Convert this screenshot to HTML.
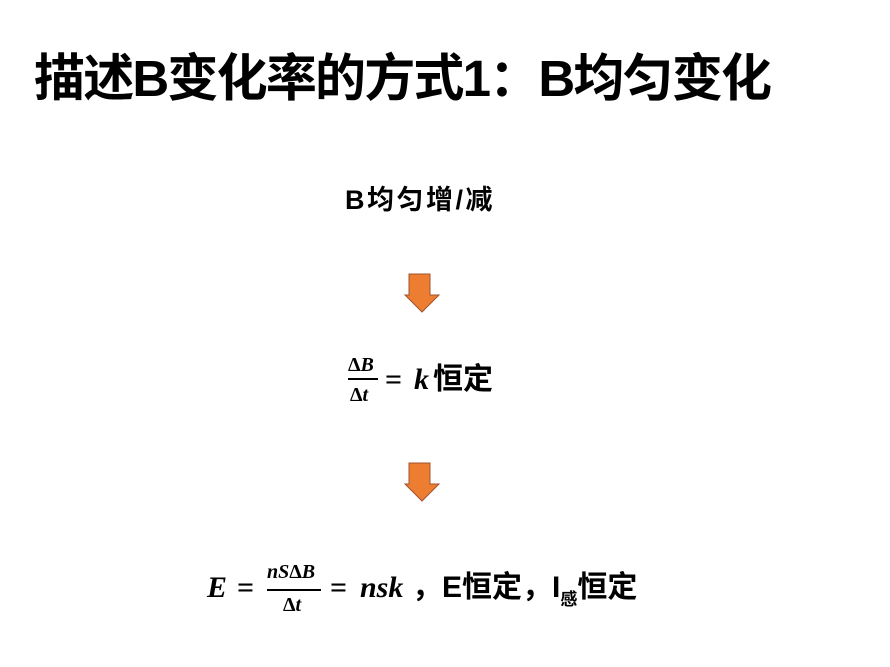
<!DOCTYPE html>
<html><head><meta charset="utf-8"><style>
body{margin:0;width:890px;height:667px;background:#fff;position:relative;overflow:hidden;font-family:"Liberation Sans","Noto Sans CJK SC",sans-serif;color:#000}
.a{position:absolute;white-space:nowrap}
.m{font-family:"Liberation Serif","DejaVu Serif",serif;font-weight:bold;font-style:italic}
.b{font-weight:bold}
</style></head><body>
<div class="a b" style="left:34px;top:46px;font-size:51px;line-height:66px;letter-spacing:-1.8px">描述B变化率的方式1：B均匀变化</div>
<div class="a b" style="left:345px;top:183px;font-size:27px;line-height:34px;letter-spacing:2.5px">B均匀增/减</div>
<svg class="a" style="left:0;top:0" width="890" height="667">
<polygon points="409,274 430,274 430,295 439,295 422,312 405,295 409,295" fill="#ed7d31" stroke="#a0522d" stroke-width="1"/>
<polygon points="409,463 430,463 430,484 439,484 422,501 405,484 409,484" fill="#ed7d31" stroke="#a0522d" stroke-width="1"/>
<line x1="348" y1="379" x2="378" y2="379" stroke="#000" stroke-width="2"/>
<line x1="267" y1="590" x2="321" y2="590" stroke="#000" stroke-width="2"/>
</svg>
<div class="a m" style="left:348px;top:354px;font-size:20px;line-height:22px"><span style="font-style:normal">Δ</span>B</div>
<div class="a m" style="left:350px;top:384px;font-size:20px;line-height:22px"><span style="font-style:normal">Δ</span>t</div>
<div class="a m" style="left:385px;top:362px;font-size:30px;line-height:36px;font-style:normal">=</div>
<div class="a m" style="left:414px;top:362px;font-size:30px;line-height:36px">k</div>
<div class="a b" style="left:433px;top:362px;font-size:30px;line-height:36px">恒定</div>
<div class="a m" style="left:207px;top:570px;font-size:30px;line-height:36px">E</div>
<div class="a m" style="left:237px;top:570px;font-size:30px;line-height:36px;font-style:normal">=</div>
<div class="a m" style="left:267px;top:561px;font-size:20px;line-height:22px">nS<span style="font-style:normal">Δ</span>B</div>
<div class="a m" style="left:283px;top:594px;font-size:20px;line-height:22px"><span style="font-style:normal">Δ</span>t</div>
<div class="a m" style="left:330px;top:570px;font-size:30px;line-height:36px;font-style:normal">=</div>
<div class="a m" style="left:360px;top:570px;font-size:30px;line-height:36px">nsk</div>
<div class="a b" style="left:412px;top:570px;font-size:30px;line-height:36px">，E恒定，I<span style="font-size:17px;vertical-align:-8px">感</span>恒定</div>
</body></html>
